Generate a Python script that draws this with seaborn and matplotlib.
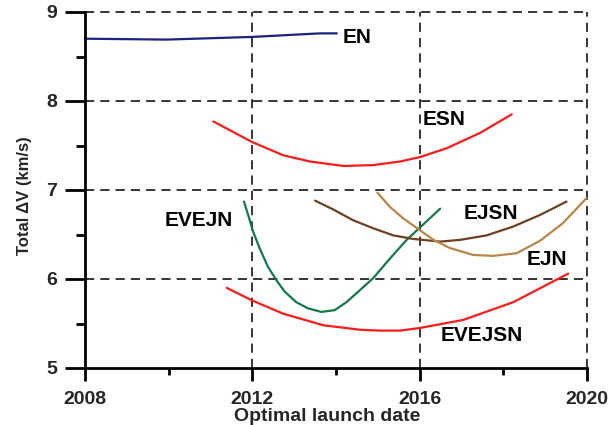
import matplotlib
matplotlib.use("Agg")
import matplotlib.pyplot as plt
import seaborn as sns
import pandas as pd

# ---- data ----
en_x = [2008.0, 2009.95, 2012.0, 2013.62, 2014.02]
en_y = [8.70, 8.69, 8.72, 8.76, 8.76]

esn_x = [2011.07, 2011.99, 2012.74, 2013.38, 2014.18, 2014.89, 2015.53, 2016.01, 2016.65, 2017.44, 2018.20]
esn_y = [7.77, 7.54, 7.39, 7.32, 7.27, 7.28, 7.32, 7.37, 7.47, 7.64, 7.85]

evejn_x = [2011.80, 2011.90, 2012.02, 2012.18, 2012.37, 2012.57, 2012.77, 2013.05, 2013.33,
           2013.65, 2013.97, 2014.25, 2014.49, 2014.89, 2015.29, 2015.69, 2016.01, 2016.49]
evejn_y = [6.87, 6.72, 6.53, 6.34, 6.14, 5.99, 5.86, 5.74, 5.67,
           5.63, 5.65, 5.74, 5.84, 6.01, 6.23, 6.44, 6.58, 6.79]

evejsn_x = [2011.39, 2011.99, 2012.74, 2013.70, 2014.57, 2015.05, 2015.53, 2016.01, 2017.04, 2018.24, 2019.55]
evejsn_y = [5.90, 5.76, 5.61, 5.48, 5.43, 5.42, 5.42, 5.45, 5.54, 5.74, 6.06]

ejsn_x = [2013.50, 2013.94, 2014.41, 2014.89, 2015.37, 2015.85, 2016.49, 2016.97, 2017.60,
          2018.24, 2018.88, 2019.51]
ejsn_y = [6.88, 6.78, 6.66, 6.57, 6.49, 6.45, 6.42, 6.44, 6.49, 6.59, 6.72, 6.87]

ejn_x = [2014.99, 2015.29, 2015.61, 2015.97, 2016.33, 2016.71, 2017.28, 2017.76, 2018.32,
         2018.88, 2019.43, 2019.99]
ejn_y = [6.97, 6.81, 6.68, 6.56, 6.44, 6.35, 6.27, 6.26, 6.29, 6.43, 6.63, 6.91]

series_names = ["EN", "ESN", "EVEJN", "EVEJSN", "EJSN", "EJN"]
series_x = [en_x, esn_x, evejn_x, evejsn_x, ejsn_x, ejn_x]
series_y = [en_y, esn_y, evejn_y, evejsn_y, ejsn_y, ejn_y]
colors = {"EN": "#1a237e", "ESN": "#ff1a1a", "EVEJN": "#13784a",
          "EVEJSN": "#ff1a1a", "EJSN": "#6e4020", "EJN": "#b8864a"}

label_pos = {"EN": (2014.17, 8.71), "ESN": (2016.06, 7.79), "EVEJN": (2009.9, 6.66),
             "EJSN": (2017.05, 6.74), "EJN": (2018.55, 6.22), "EVEJSN": (2016.5, 5.37)}

x_ticks = [2008, 2012, 2016, 2020]
x_minor = [2010, 2014, 2018]
y_ticks = [5, 6, 7, 8, 9]
y_minor = [5.5, 6.5, 7.5, 8.5]
x_grid = [2012, 2016, 2020]
y_grid = [6, 7, 8, 9]

x_lo, x_hi = 2008, 2020
y_lo, y_hi = 5, 9

rows = []
for name, xs, ys in zip(series_names, series_x, series_y):
    for xv, yv in zip(xs, ys):
        rows.append({"series": name, "date": xv, "dv": yv})
df = pd.DataFrame(rows)

sns.set_theme(style="ticks")
plt.rcParams['font.family'] = ['Liberation Sans', 'DejaVu Sans']

# axes box includes room for outward tick marks (drawn inside the axes area)
L, R, T, B = 65, 589, 10, 382          # pixel box of the axes
px_x = (x_hi - x_lo) / (587 - 85)       # data units per pixel
px_y = (y_hi - y_lo) / (368 - 12)

fig = plt.figure(figsize=(6.14, 4.25), dpi=100)
ax = fig.add_axes([L/614, 1-B/425, (R-L)/614, (B-T)/425])

sns.lineplot(data=df, x="date", y="dv", hue="series", palette=colors,
             sort=False, estimator=None, linewidth=1.6, ax=ax, legend=False)

ax.set_xlim(x_lo - (85 - L) * px_x, x_hi + (R - 587) * px_x)
ax.set_ylim(y_lo - (B - 368) * px_y, y_hi + (12 - T) * px_y)

# axis lines (positioned first: this resets tick settings)
for s in ['top', 'right']:
    ax.spines[s].set_visible(False)
ax.spines['bottom'].set_position(('data', y_lo))
ax.spines['bottom'].set_bounds(x_lo, x_hi)
ax.spines['left'].set_position(('data', x_lo))
ax.spines['left'].set_bounds(y_lo, y_hi)
for s in ['left', 'bottom']:
    ax.spines[s].set_color('black')
    ax.spines[s].set_linewidth(2)

ax.set_xticks(x_ticks)
ax.set_yticks(y_ticks)
ax.set_xticks([], minor=True)
ax.set_yticks([], minor=True)
ax.set_xticklabels([str(t) for t in x_ticks], fontsize=14, fontweight='bold')
ax.set_yticklabels([str(t) for t in y_ticks], fontsize=14, fontweight='bold')
ax.tick_params(axis='x', which='both', length=0, pad=16.5)
ax.tick_params(axis='y', which='both', length=0, pad=20)

# dashed grid
ax.vlines(x_grid, y_lo, y_hi, colors='black', linestyles=(0, (6, 4)), linewidth=1.1, zorder=0)
ax.hlines(y_grid, x_lo, x_hi, colors='black', linestyles=(0, (6, 4)), linewidth=1.1, zorder=0)

# outward tick marks
ax.vlines(x_ticks, y_lo - 13 * px_y, y_lo, colors='black', linewidth=2)
ax.vlines(x_minor, y_lo - 7 * px_y, y_lo, colors='black', linewidth=2)
ax.hlines(y_ticks, x_lo - 20 * px_x, x_lo, colors='black', linewidth=2)
ax.hlines(y_minor, x_lo - 9 * px_x, x_lo, colors='black', linewidth=2)

ax.set_xlabel("Optimal launch date", fontsize=14, fontweight='bold', labelpad=0)
ax.set_ylabel("Total \u0394V (km/s)", fontsize=12, fontweight='bold', labelpad=10)

for name, (lx, ly) in label_pos.items():
    ax.text(lx, ly, name, fontsize=15, fontweight='bold', ha='left', va='center',
            color='black')

fig.savefig("out.png", dpi=100)
